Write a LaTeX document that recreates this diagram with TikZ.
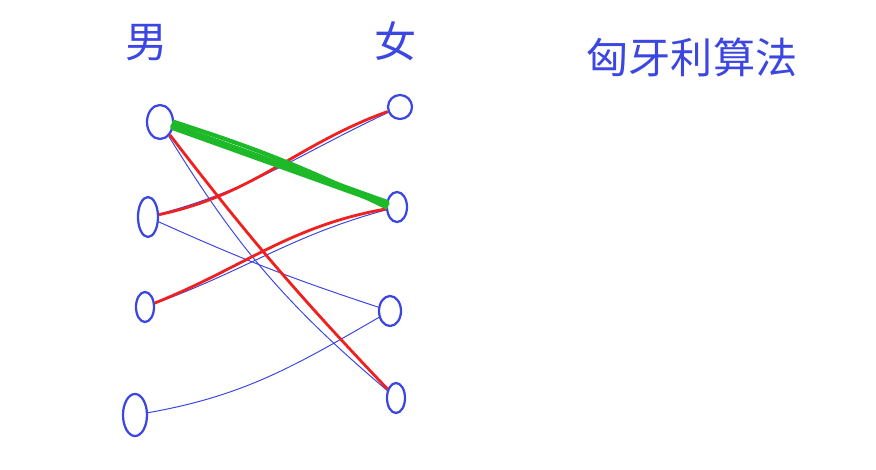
\documentclass[tikz,border=0pt]{standalone}
\usepackage{fontspec}
\newfontfamily\cjk{Noto Sans CJK SC}
\usetikzlibrary{shapes.geometric}
\definecolor{pen}{RGB}{60,70,225}
\definecolor{redpen}{RGB}{238,32,32}
\definecolor{greenpen}{RGB}{30,185,40}

\begin{document}
\begin{tikzpicture}[x=0.025cm,y=0.025cm,
    vertex/.style={draw=pen,ellipse,line width=1.6pt,inner sep=0pt,
      minimum width=0.55cm,minimum height=0.85cm},
    label/.style={text=pen,font=\cjk\fontsize{30}{36}\selectfont},
    blueline/.style={pen,line width=0.7pt},
    redline/.style={redpen,line width=2pt},
    greenline/.style={greenpen,line width=5pt,line cap=round}]
  \useasboundingbox (0,0) rectangle (876,469);
  % labels
  \node[label] (boys) at (147,426) {男};
  \node[label] (girls) at (396,428) {女};
  \node[label] (title) at (692,412) {匈牙利算法};
  % left side
  \node[vertex,minimum width=0.65cm] (b1) at (160,347) {};
  \node[vertex,minimum width=0.5cm,minimum height=1cm] (b2) at (148,252) {};
  \node[vertex,minimum width=0.45cm,minimum height=0.75cm] (b3) at (145,162) {};
  \node[vertex,minimum width=0.6cm,minimum height=1.05cm] (b4) at (135,54) {};
  % right side
  \node[vertex,minimum width=0.6cm,minimum height=0.6cm] (g1) at (400,362) {};
  \node[vertex,minimum width=0.5cm,minimum height=0.75cm] (g2) at (397,262) {};
  \node[vertex,minimum width=0.55cm,minimum height=0.75cm] (g3) at (390,158) {};
  \node[vertex,minimum width=0.45cm,minimum height=0.75cm] (g4) at (396,71) {};
  \begin{scope}[blueline]
    \draw (b1) to (g2);
    \draw (b1) to[bend right=9] (g4);
    \draw (b2) to[out=15,in=205] (g1);
    \draw (b2) to[bend right=3] (g3);
    \draw (b3) to[out=20,in=195] (g2);
    \draw (b4) to[out=10,in=210] (g3);
  \end{scope}
  \begin{scope}[redline]
    \draw (b1) to (g2);
    \draw (b1) to[bend right=3] (g4);
    \draw (b2) to[out=12,in=200] (g1);
    \draw (b3) to[out=22,in=190] (g2);
  \end{scope}
  \draw[greenline] (b1) to (g2);
  \draw[greenpen,line width=3pt,line cap=round] (b1.east) to[bend left=4] (g2.west);
\end{tikzpicture}
\end{document}
